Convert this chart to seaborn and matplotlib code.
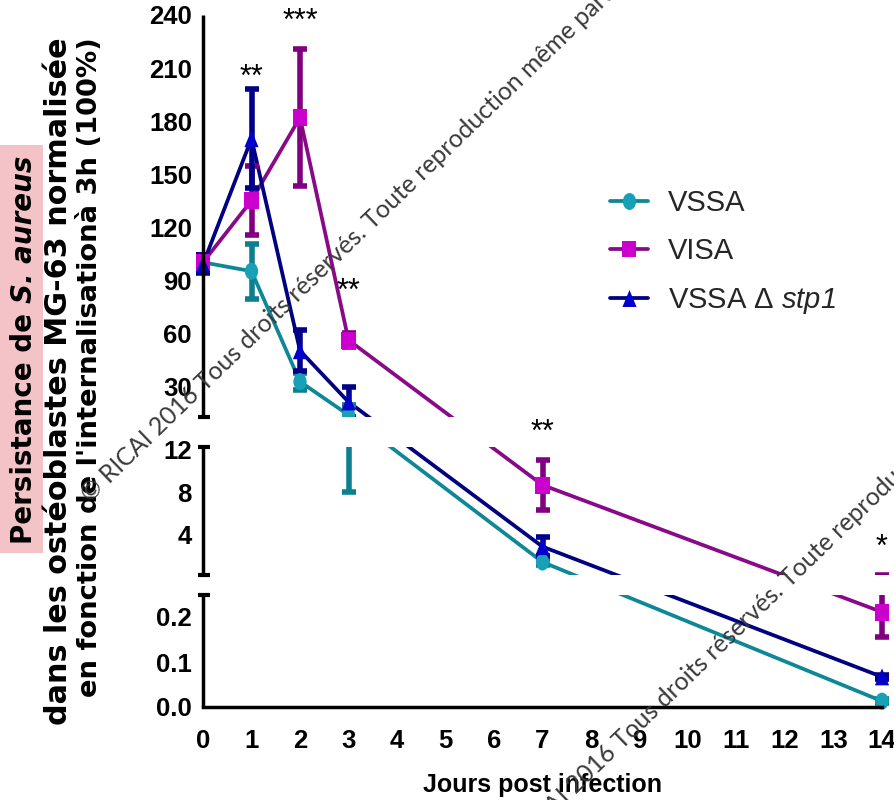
import numpy as np
import pandas as pd
import matplotlib
matplotlib.use("Agg")
import matplotlib.pyplot as plt
from matplotlib.path import Path
from matplotlib.transforms import Affine2D, blended_transform_factory
from matplotlib.lines import Line2D
from matplotlib.patches import Rectangle
from matplotlib.ticker import FixedLocator, NullLocator
import seaborn as sns

# ---------------- data ----------------
days = [0, 1, 2, 3, 7, 14]
strains = ["VSSA", "VISA", "VSSA Δ stp1"]
vssa_mean = [100, 95, 32.5, 13.6, 1.45, 0.013]
vssa_sd = [4, 15.5, 5, 5.6, 0.3, 0.004]
visa_mean = [100, 135, 182, 56, 8.7, 0.211]
visa_sd = [4, 19.5, 38.5, 4, 2.35, 0.055]
stp1_mean = [99, 170, 50, 21, 2.9, 0.067]
stp1_sd = [5, 28, 11.5, 8.5, 0.9, 0.004]

star_days = [1, 2, 3, 7, 14]
star_text = ["**", "***", "**", "**", "*"]

ytick_values = [0.0, 0.1, 0.2, 4, 8, 12, 30, 60, 90, 120, 150, 180, 210, 240]
ytick_labels = ["0.0", "0.1", "0.2", "4", "8", "12", "30", "60", "90",
                "120", "150", "180", "210", "240"]
xtick_values = list(range(0, 15))

# ---------------- style ----------------
line_colors = {"VSSA": "#0E8796", "VISA": "#880A88", "VSSA Δ stp1": "#000080"}
marker_colors = {"VSSA": "#17A0B6", "VISA": "#CC00CC", "VSSA Δ stp1": "#0000CD"}
err_colors = {"VSSA": "#0C808F", "VISA": "#800080", "VSSA Δ stp1": "#00008B"}

sns.set_theme(style="white")
plt.rcParams["font.family"] = ["Liberation Sans", "DejaVu Sans"]
plt.rcParams["mathtext.fontset"] = "custom"
# the only math text is the italic gene name, digits included
plt.rcParams["mathtext.rm"] = "Liberation Sans:italic"
plt.rcParams["mathtext.it"] = "Liberation Sans:italic"
plt.rcParams["mathtext.bf"] = "Liberation Sans:bold"

W, H = 894, 800
fig = plt.figure(figsize=(W / 100, H / 100), dpi=100)
fig.patch.set_facecolor("white")

AX_L, AX_R, AX_B, AX_T = 203, 882, 707, 15
ax = fig.add_axes([AX_L / W, 1 - AX_B / H, (AX_R - AX_L) / W, (AX_B - AX_T) / H])
ax_h = AX_B - AX_T

# broken y axis: (value from, value to, pixel from, pixel to) measured up from the x axis
segments = [(0.0, 0.25, 0.0, 112.5),
            (0.25, 12.25, 132.2, 259.7),
            (12.25, 240.0, 289.6, 692.0)]


def fwd(v):
    v = np.asarray(v, dtype=float)
    out = np.empty_like(v)
    for i, (v0, v1, p0, p1) in enumerate(segments):
        k = (p1 - p0) / (v1 - v0)
        if i == 0:
            m = v <= v1
        elif i == len(segments) - 1:
            m = v > v0
        else:
            m = (v > v0) & (v <= v1)
        out[m] = p0 + (v[m] - v0) * k
    return out


def inv(p):
    p = np.asarray(p, dtype=float)
    out = np.empty_like(p)
    out[...] = segments[-1][1]
    last = len(segments) - 1
    for i, (v0, v1, p0, p1) in enumerate(segments):
        k = (p1 - p0) / (v1 - v0)
        lo = -np.inf if i == 0 else p0
        hi = np.inf if i == last else segments[i + 1][2]
        m = (p >= lo) & (p < hi)
        vals = v0 + (p[m] - p0) / k
        out[m] = vals if i == last else np.minimum(vals, v1)
    return out


ax.set_yscale("function", functions=(fwd, inv))

means = {"VSSA": vssa_mean, "VISA": visa_mean, "VSSA Δ stp1": stp1_mean}
sds = {"VSSA": vssa_sd, "VISA": visa_sd, "VSSA Δ stp1": stp1_sd}
df = pd.DataFrame([{"day": d, "value": m, "sd": s, "strain": st}
                   for st in strains for d, m, s in zip(days, means[st], sds[st])])

# marker shapes (slightly tall)
ellipse = Path.unit_circle().transformed(Affine2D().scale(1.0, 1.28))
square = Path([(-1, -1.2), (1, -1.2), (1, 1.2), (-1, 1.2), (-1, -1.2)],
              [Path.MOVETO, Path.LINETO, Path.LINETO, Path.LINETO, Path.CLOSEPOLY])
triangle = Path([(0, 1.2), (-1, -1.2), (1, -1.2), (0, 1.2)],
                [Path.MOVETO, Path.LINETO, Path.LINETO, Path.CLOSEPOLY])
marker_shapes = {"VSSA": ellipse, "VISA": square, "VSSA Δ stp1": triangle}

sns.lineplot(data=df, x="day", y="value", hue="strain", hue_order=strains,
             palette=line_colors, linewidth=2.7, legend=False, ax=ax,
             errorbar=None, sort=False, zorder=2, clip_on=False)

for st in strains:
    ax.errorbar(days, means[st], yerr=sds[st], fmt="none", ecolor=err_colors[st],
                elinewidth=4, capsize=5, capthick=4, zorder=2.5, clip_on=False)

sns.scatterplot(data=df, x="day", y="value", hue="strain", hue_order=strains,
                style="strain", style_order=strains, markers=marker_shapes,
                palette=marker_colors, s=150, linewidth=0, legend=False, ax=ax,
                zorder=3, clip_on=False)

ax.set_xlim(0, 14)
ax.set_ylim(0, 240)
ax.yaxis.set_major_locator(FixedLocator(ytick_values))
ax.yaxis.set_minor_locator(NullLocator())
ax.set_yticklabels(ytick_labels)
ax.set_xticks(xtick_values)
ax.set_xticklabels([str(v) for v in xtick_values])
ax.grid(False)
ax.set_facecolor("none")

for side in ["top", "right", "left"]:
    ax.spines[side].set_visible(False)
ax.spines["bottom"].set_linewidth(2.5)
ax.spines["bottom"].set_color("black")
ax.spines["bottom"].set_zorder(7)

ax.tick_params(axis="both", direction="out", length=6.5, width=2.5, color="black")
ax.tick_params(axis="y", pad=1.5, labelsize=18.5)
ax.tick_params(axis="x", pad=9, labelsize=18.5)
for lbl in ax.get_xticklabels() + ax.get_yticklabels():
    lbl.set_fontweight("bold")
    lbl.set_color("black")

ax.set_xlabel("Jours post infection", fontsize=18, fontweight="bold",
              color="black", labelpad=15)
ax.set_ylabel("")

# white gaps between the y segments and the broken spine pieces
blend = blended_transform_factory(ax.transData, ax.transAxes)
for (a, b) in [(segments[0][3], segments[1][2]), (segments[1][3], segments[2][2])]:
    ax.add_patch(Rectangle((0.0, a / ax_h), 1.03, (b - a) / ax_h, transform=ax.transAxes,
                           facecolor="white", edgecolor="none", zorder=4, clip_on=False))
for (v0, v1, p0, p1) in segments:
    ax.plot([0, 0], [p0 / ax_h, p1 / ax_h], transform=blend, color="black", lw=2.5,
            solid_capstyle="butt", clip_on=False, zorder=7)
caps = [segments[0][3], segments[1][2], segments[1][3], segments[2][2]]
ax.plot([0.03] * len(caps), [c / ax_h for c in caps], transform=blend, linestyle="none",
        marker="_", markersize=8.5, markeredgewidth=3, color="black", clip_on=False, zorder=7)

# significance stars above the highest error bar of each day
star_lift_px = [11, 28, 41, 27, 27]
for d, txt, lift in zip(star_days, star_text, star_lift_px):
    i = days.index(d)
    top = max(means[st][i] + sds[st][i] for st in strains)
    ax.annotate(txt, xy=(d, top), xytext=(0, lift), textcoords="offset pixels",
                ha="center", va="center", fontsize=22, color="black",
                annotation_clip=False, zorder=8)

# legend
handles = [Line2D([0], [0], color=line_colors[st], lw=2.7, marker=marker_shapes[st],
                  markersize=12.2, markerfacecolor=marker_colors[st], markeredgewidth=0)
           for st in strains]
labels = ["VSSA", "VISA", "VSSA Δ $stp1$"]
leg = ax.legend(handles, labels, loc="upper left", bbox_to_anchor=(610 / W, 1 - 189 / H),
                bbox_transform=fig.transFigure, frameon=False, fontsize=21,
                handlelength=1.3, handletextpad=0.68, labelspacing=0.70,
                borderpad=0, borderaxespad=0)
leg.set_zorder(9)


def fig_xy(x, y):
    return x / W, 1 - y / H


renderer = fig.canvas.get_renderer()

# y axis title, three lines
fig.add_artist(Rectangle(fig_xy(0, 553), 43 / W, (553 - 145) / H, transform=fig.transFigure,
                         facecolor="#F3C3C7", edgecolor="none", zorder=0))
lab_font = dict(family=["DejaVu Sans"], fontweight="bold", color="black", rotation=90)
p1 = fig.text(*fig_xy(24, 0), "Persistance de ", ha="center", va="bottom", fontsize=20,
              **lab_font)
p2 = fig.text(*fig_xy(24, 0), "S. aureus", ha="center", va="bottom", style="italic",
              fontsize=20, **lab_font)
h1 = p1.get_window_extent(renderer).height
h2 = p2.get_window_extent(renderer).height
start = 350 + (h1 + h2) / 2
p1.set_position(fig_xy(24, start))
p2.set_position(fig_xy(24, start - h1))
fig.text(*fig_xy(59, 37), "dans les ostéoblastes MG-63 normalisée", ha="center",
         va="top", fontsize=21.8, **lab_font)
fig.text(*fig_xy(90, 37), "en fonction de l'internalisationà 3h (100%)", ha="center",
         va="top", fontsize=19.7, **lab_font)

# copyright overlay
notice = "© RICAI 2016 Tous droits réservés. Toute reproduction même partielle interdite"
for (x0, y0) in [(90, 503), (507, 861)]:
    fig.text(*fig_xy(x0, y0), notice, rotation=44, rotation_mode="anchor", ha="left",
             va="baseline", family=["Lato", "DejaVu Sans"], fontsize=17.8,
             color="#3a3a3a", zorder=20)

fig.savefig("out.png", dpi=100)
